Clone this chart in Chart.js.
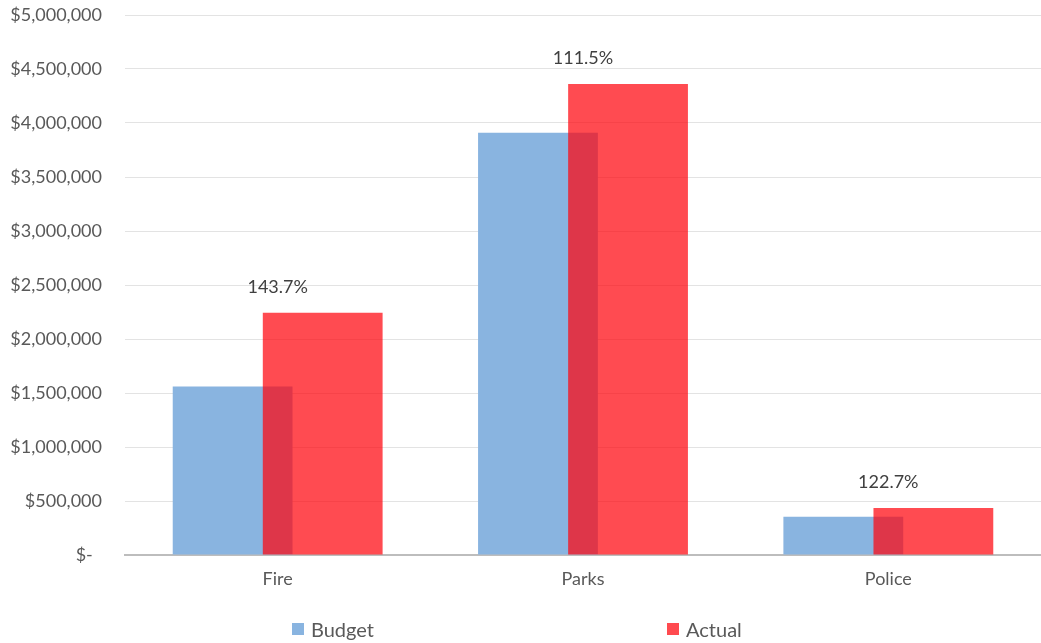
<!DOCTYPE html>
<html>
<head>
<meta charset="utf-8">
<script src="https://cdn.jsdelivr.net/npm/chart.js@4.4.1/dist/chart.umd.min.js"></script>
<style>
  html, body { margin: 0; padding: 0; background: #ffffff; }
  #wrap { position: relative; width: 1041px; height: 643px; }
  #chart { position: absolute; left: 0; top: 0; }
  #legend {
    position: absolute; left: 0; top: 617px; width: 1041px; height: 24px;
    font-family: Lato, "Open Sans", sans-serif; font-size: 20px; color: #595959;
  }
  #legend .item { position: absolute; top: 0; display: flex; align-items: center; height: 24px; }
  #legend .box { width: 12px; height: 12px; margin-right: 7px; }
</style>
</head>
<body>
<div id="wrap">
  <canvas id="chart" width="1041" height="643"></canvas>
  <div id="legend"></div>
</div>
<script>
// Departments and their spending
const categories = ['Fire', 'Parks', 'Police'];
const budgetValues = [1560000, 3910000, 355000];
const actualValues = [2242000, 4360000, 435600];
const yTicks = [0, 500000, 1000000, 1500000, 2000000, 2500000, 3000000, 3500000, 4000000, 4500000, 5000000];

const seriesNames = ['Budget', 'Actual'];
const seriesColors = ['#89b4e0', 'rgba(255, 6, 14, 0.72)'];
const legendSwatch = ['#89b4e0', '#ff4a4f'];
const legendLeft = [292, 667];

const fontFamily = 'Lato, "Open Sans", sans-serif';

function money(v) {
  if (v === 0) return '$-  ';
  return '$' + v.toLocaleString('en-US');
}

// Actual bars are painted after the budget bars so they overlap on top.
let lateDraw = false;
const overlapOrder = {
  id: 'overlapOrder',
  beforeDatasetDraw(chart, args) {
    if (args.index === 1 && !lateDraw) return false;
  },
  afterDatasetsDraw(chart) {
    lateDraw = true;
    const meta = chart.getDatasetMeta(1);
    const ctx = chart.ctx;
    ctx.save();
    meta.controller.draw();
    ctx.restore();
    lateDraw = false;
  }
};

// Actual as a percentage of budget, written above each category
const percentLabels = {
  id: 'percentLabels',
  afterDatasetsDraw(chart) {
    const ctx = chart.ctx;
    const x = chart.scales.x;
    const y = chart.scales.y;
    ctx.save();
    ctx.font = '18px ' + fontFamily;
    ctx.fillStyle = '#404040';
    ctx.textAlign = 'center';
    ctx.textBaseline = 'middle';
    categories.forEach((c, i) => {
      const pct = (actualValues[i] / budgetValues[i] * 100).toFixed(1) + '%';
      const px = x.getPixelForValue(i);
      const py = y.getPixelForValue(actualValues[i]) - 26;
      ctx.fillText(pct, px, py);
    });
    ctx.restore();
  }
};

const chart = new Chart(document.getElementById('chart'), {
  type: 'bar',
  data: {
    labels: categories,
    datasets: [
      { label: seriesNames[0], data: budgetValues, backgroundColor: seriesColors[0] },
      { label: seriesNames[1], data: actualValues, backgroundColor: seriesColors[1] }
    ]
  },
  options: {
    responsive: false,
    animation: false,
    devicePixelRatio: 1,
    categoryPercentage: 0.59,
    barPercentage: 1.33,
    layout: { padding: { top: 15, right: 0, bottom: 52, left: 0 } },
    plugins: {
      legend: { display: false },
      tooltip: { enabled: false }
    },
    scales: {
      x: {
        grid: { display: false, drawTicks: false },
        border: { display: true, color: '#bdbdbd', width: 2 },
        ticks: { color: '#595959', font: { family: fontFamily, size: 18 }, padding: 13 },
        afterFit(scale) { scale.height = 36; scale.paddingLeft = 0; scale.paddingRight = 0; }
      },
      y: {
        min: 0,
        max: 5000000,
        afterBuildTicks(scale) { scale.ticks = yTicks.map(v => ({ value: v })); },
        grid: {
          drawTicks: false,
          color: ctx => ctx.tick && ctx.tick.value === 0 ? 'rgba(0,0,0,0)' : '#e3e3e3',
          lineWidth: 1
        },
        border: { display: false },
        ticks: {
          color: '#595959',
          font: { family: fontFamily, size: 18 },
          padding: 23,
          callback: v => money(v)
        },
        afterFit(scale) {
          scale.width = 125;
          scale.paddingTop = 0;
          scale.paddingBottom = 0;
        }
      }
    }
  },
  plugins: [overlapOrder, percentLabels]
});

// Legend beneath the plot
const legend = document.getElementById('legend');
seriesNames.forEach((name, i) => {
  const item = document.createElement('div');
  item.className = 'item';
  item.style.left = legendLeft[i] + 'px';
  const box = document.createElement('span');
  box.className = 'box';
  box.style.background = legendSwatch[i];
  const label = document.createElement('span');
  label.textContent = name;
  item.appendChild(box);
  item.appendChild(label);
  legend.appendChild(item);
});
</script>
</body>
</html>
